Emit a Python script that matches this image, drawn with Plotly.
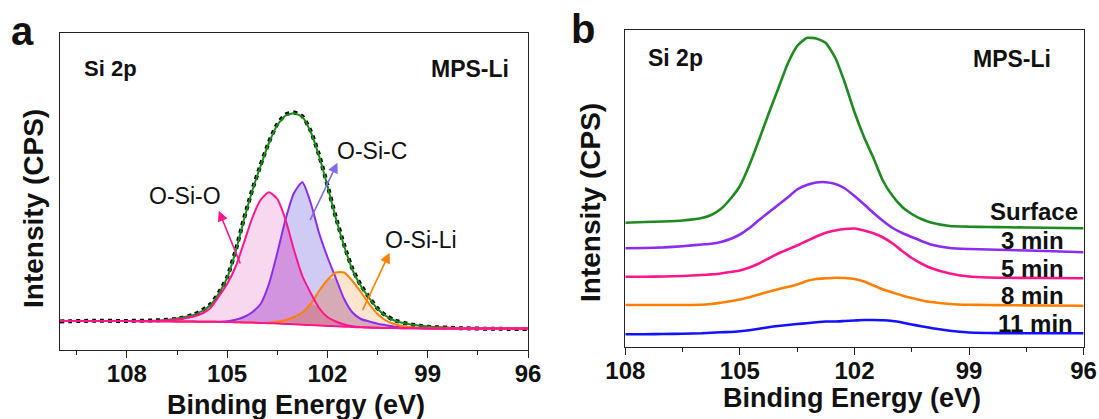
import plotly.graph_objects as go

# ---------------- Panel a : Si 2p fit of MPS-Li ----------------
energy_a = [110, 109, 108, 107, 106.5, 106, 105.75, 105.5, 105.25, 105, 104.75, 104.5,
            104.25, 104, 103.75, 103.5, 103.25, 103, 102.75, 102.5, 102.25, 102, 101.75,
            101.5, 101.25, 101, 100.75, 100.5, 100.25, 100, 99.5, 99, 98, 97, 96]
background_a = [29.0, 29.0, 28.9, 28.7, 28.6, 28.4, 28.3, 28.2, 28.1, 28.0, 27.8, 27.6,
                27.4, 27.1, 26.8, 26.5, 26.1, 25.7, 25.3, 24.9, 24.5, 24.1, 23.7,
                23.3, 23.0, 22.7, 22.4, 22.2, 22.0, 21.9, 21.7, 21.6, 21.5, 21.5, 21.5]
osio_a = [29.0, 29.0, 28.9, 29.2, 30.5, 33.5, 36.5, 42.0, 53.5, 66.0, 83.0, 107.0,
          132.0, 150.0, 157.7, 151.0, 130.0, 100.0, 74.0, 57.0, 42.0, 33.0, 28.5,
          25.5, 23.7, 22.9, 22.5, 22.2, 22.0, 21.9, 21.7, 21.6, 21.5, 21.5, 21.5]
osic_a = [29.0, 29.0, 28.9, 28.7, 28.6, 28.4, 28.3, 28.2, 28.3, 28.8, 30.2, 33.0,
          37.8, 46.0, 66.0, 97.0, 131.0, 157.0, 167.7, 147.0, 117.0, 93.0, 72.0,
          51.0, 37.5, 31.0, 28.5, 26.3, 24.8, 23.3, 22.0, 21.6, 21.5, 21.5, 21.5]
osili_a = [29.0, 29.0, 28.9, 28.7, 28.6, 28.4, 28.3, 28.2, 28.1, 28.0, 27.8, 27.6,
           27.4, 27.1, 27.2, 28.2, 30.0, 33.0, 37.5, 46.0, 59.0, 70.0, 77.5,
           77.5, 69.0, 58.0, 46.0, 36.0, 29.5, 26.0, 22.8, 21.8, 21.5, 21.5, 21.5]
envelope_a = [29.0, 29.0, 29.0, 29.5, 31.5, 35.0, 39.0, 45.0, 56.5, 72.0, 98.0, 130.0,
              159.0, 184.0, 207.0, 225.0, 234.5, 236.7, 233.0, 218.0, 194.0, 164.0, 132.0,
              104.0, 80.0, 64.0, 52.0, 41.0, 34.0, 29.5, 25.5, 23.5, 22.0, 21.7, 21.5]
measured_a = [28.6, 29.2, 29.1, 29.8, 31.2, 35.4, 39.6, 45.8, 57.2, 72.8, 99.0, 131.0,
              160.0, 185.0, 208.0, 226.0, 235.5, 237.5, 233.8, 219.0, 195.0, 165.0, 133.0,
              105.0, 81.0, 64.8, 52.6, 41.6, 34.4, 29.8, 25.6, 23.3, 21.8, 21.2, 21.0]

# ---------------- Panel b : depth profile ----------------
energy_b = [108, 107.5, 107, 106.5, 106, 105.75, 105.5, 105.25, 105, 104.75, 104.5, 104.25,
            104, 103.75, 103.5, 103.25, 103, 102.75, 102.5, 102.25, 102, 101.75, 101.5,
            101.25, 101, 100.75, 100.5, 100.25, 100, 99.5, 99, 98.5, 98, 97, 96]
surface_b = [124.3, 125.0, 125.5, 126.5, 129.0, 132.0, 138.0, 148.0, 161.0, 182.0, 207.0, 233.0,
             258.0, 283.0, 301.0, 309.0, 308.5, 304.0, 289.0, 264.0, 235.0, 210.0, 188.7,
             166.0, 151.0, 140.0, 133.0, 128.0, 124.5, 121.0, 120.3, 120.0, 119.7, 119.2, 118.7]
min3_b = [98.7, 99.0, 99.6, 100.8, 102.5, 103.3, 105.0, 108.0, 112.5, 119.0, 127.0, 134.5,
          142.0, 149.5, 157.5, 162.0, 164.5, 164.8, 163.0, 158.5, 151.0, 142.7, 134.0,
          126.0, 119.0, 114.0, 110.0, 106.0, 102.5, 99.0, 98.0, 97.5, 97.0, 96.0, 94.7]
min5_b = [70.3, 70.3, 70.5, 71.0, 72.0, 72.6, 73.5, 75.0, 76.5, 79.5, 83.5, 88.5,
          93.5, 97.5, 101.5, 106.0, 110.5, 114.3, 116.5, 118.0, 118.5, 116.5, 113.7,
          109.5, 103.5, 96.0, 89.0, 83.5, 79.0, 73.5, 70.5, 69.5, 69.2, 69.0, 68.7]
min8_b = [42.0, 42.0, 42.0, 42.0, 42.2, 43.0, 44.3, 45.7, 47.4, 49.8, 52.5, 55.3,
          57.8, 60.0, 62.5, 66.0, 68.0, 68.7, 69.3, 69.0, 68.0, 65.5, 61.5,
          57.5, 54.5, 51.5, 49.0, 46.8, 45.0, 43.0, 42.2, 42.0, 41.8, 41.5, 41.3]
min11_b = [12.7, 12.8, 13.0, 13.3, 13.7, 14.2, 14.7, 15.0, 15.7, 16.8, 18.3, 19.8,
           21.0, 22.0, 23.0, 23.8, 24.8, 25.5, 25.5, 26.0, 26.5, 27.0, 27.0,
           26.8, 26.0, 24.5, 22.5, 20.8, 19.0, 16.2, 14.5, 14.0, 13.7, 13.7, 13.7]
series_b = [surface_b, min3_b, min5_b, min8_b, min11_b]
labels_b = ["Surface", "3 min", "5 min", "8 min", "11 min"]
colors_b = ["#1f8a1f", "#8c2cf0", "#ff168c", "#ff8000", "#1212ff"]

tick_vals = [108, 105, 102, 99, 96]
tick_text = ["108", "105", "102", "99", "96"]
minor_vals = [109.5, 106.5, 103.5, 100.5, 97.5]

W, H = 1099, 419
FONT = "Liberation Sans, Arial, sans-serif"


def px(x):
    return x / W


def py(y):
    return 1 - y / H


fig = go.Figure()

# ---- panel a fills (opaque, with explicit overlap colours) ----
def region(top):
    return energy_a + energy_a[::-1], list(top) + background_a[::-1]


pp = [min(a, b) for a, b in zip(osio_a, osic_a)]
po = [min(a, b) for a, b in zip(osio_a, osili_a)]
co = [min(a, b) for a, b in zip(osic_a, osili_a)]
tri = [min(a, b, c) for a, b, c in zip(osio_a, osic_a, osili_a)]
fills = [
    (osio_a, "#f8d8ee"),
    (osic_a, "#cfcbf4"),
    (osili_a, "#fde5cf"),
    (pp, "#d293df"),
    (po, "#e4a2b8"),
    (co, "#d6abb6"),
    (tri, "#d2889e"),
]
for top, col in fills:
    xs, ys = region(top)
    fig.add_trace(go.Scatter(x=xs, y=ys, mode="lines", fill="toself", fillcolor=col,
                             line=dict(width=0, shape="spline", smoothing=0.6),
                             hoverinfo="skip", showlegend=False, xaxis="x", yaxis="y"))

# measured data (black dots)
fig.add_trace(go.Scatter(x=energy_a, y=measured_a, mode="lines",
                         line=dict(color="black", width=4, dash="dot", shape="spline", smoothing=0.6),
                         showlegend=False, xaxis="x", yaxis="y"))
fig.add_trace(go.Scatter(x=energy_a, y=envelope_a, mode="lines",
                         line=dict(color="#1a8a1a", width=2, shape="spline", smoothing=0.6),
                         showlegend=False, xaxis="x", yaxis="y"))
for ys, col in [(osic_a, "#8c2cf0"), (osili_a, "#ff8000"), (osio_a, "#ff168c"),
                (background_a, "#ff168c")]:
    fig.add_trace(go.Scatter(x=energy_a, y=ys, mode="lines",
                             line=dict(color=col, width=2, shape="spline", smoothing=0.6),
                             showlegend=False, xaxis="x", yaxis="y"))

# ---- panel b ----
for ys, col in zip(series_b, colors_b):
    fig.add_trace(go.Scatter(x=energy_b, y=ys, mode="lines",
                             line=dict(color=col, width=2.6, shape="spline", smoothing=0.5),
                             showlegend=False, xaxis="x2", yaxis="y2"))

axis_common = dict(showline=True, mirror=True, linecolor="#222", linewidth=1.2,
                   showgrid=False, zeroline=False, automargin=False)
xcommon = dict(axis_common, tickmode="array", tickvals=tick_vals, ticktext=tick_text,
               ticks="outside", ticklen=7, tickwidth=1.2, tickcolor="#222",
               ticklabelstandoff=-5,
               tickfont=dict(family=FONT, size=24, color="#111", weight="bold"),
               minor=dict(tickvals=minor_vals, ticks="outside", ticklen=4,
                          tickwidth=1.2, tickcolor="#222"))
ycommon = dict(axis_common, showticklabels=False, ticks="")

fig.update_layout(
    template="none",
    width=W, height=H, autosize=False,
    margin=dict(l=0, r=0, t=0, b=0, pad=0, autoexpand=False),
    paper_bgcolor="white", plot_bgcolor="white",
    showlegend=False,
    xaxis=dict(xcommon, domain=[px(60), px(528)], range=[110, 96], anchor="y"),
    yaxis=dict(ycommon, domain=[py(350), py(33.3)], range=[0, 316.7], anchor="x"),
    xaxis2=dict(xcommon, domain=[px(625.3), px(1083.6)], range=[108, 96], anchor="y2"),
    yaxis2=dict(ycommon, domain=[py(347), py(30)], range=[0, 317], anchor="x2"),
)

ann = []


def text(x, y, s, size, bold=True, color="#111", angle=0):
    ann.append(dict(x=px(x), y=py(y), xref="paper", yref="paper", text=s, showarrow=False,
                    xanchor="center", yanchor="middle", textangle=angle,
                    font=dict(family=FONT, size=size, color=color,
                              weight="bold" if bold else "normal")))


# panel letters
text(22, 31, "a", 40)
text(583, 29, "b", 40)
# axis titles
text(296, 405, "Binding Energy (eV)", 27)
text(852, 398, "Binding Energy (eV)", 27)
text(33, 209, "Intensity (CPS)", 28, angle=-90)
text(591, 203, "Intensity (CPS)", 28, angle=-90)
# in-panel labels
text(110, 69, "Si 2p", 22)
text(470, 69, "MPS-Li", 23)
text(675, 58, "Si 2p", 23)
text(1012, 59, "MPS-Li", 23)
text(184.6, 196, "O-Si-O", 23, bold=False)
text(372, 151, "O-Si-C", 23, bold=False)
text(421, 240, "O-Si-Li", 23, bold=False)
for lab, (lx, ly) in zip(labels_b, [(1033.7, 211.7), (1032.5, 240), (1032.5, 268),
                                     (1032.5, 295), (1035.7, 323)]):
    text(lx, ly, lab, 24)

# arrows (data coordinates of panel a)
for (hx, hy, tx, ty, col) in [(105.25, 139.3, 104.59, 85.0, "#ff168c"),
                              (101.70, 187.3, 102.54, 128.3, "#7f6fe6"),
                              (100.14, 97.3, 100.97, 38.3, "#ff8000")]:
    ann.append(dict(x=hx, y=hy, ax=tx, ay=ty, xref="x", yref="y", axref="x", ayref="y",
                    text="", showarrow=True, arrowhead=2, arrowsize=1.3, arrowwidth=1.6,
                    arrowcolor=col, standoff=0, startstandoff=0))

fig.update_layout(annotations=ann)
fig.write_html("out.html")
